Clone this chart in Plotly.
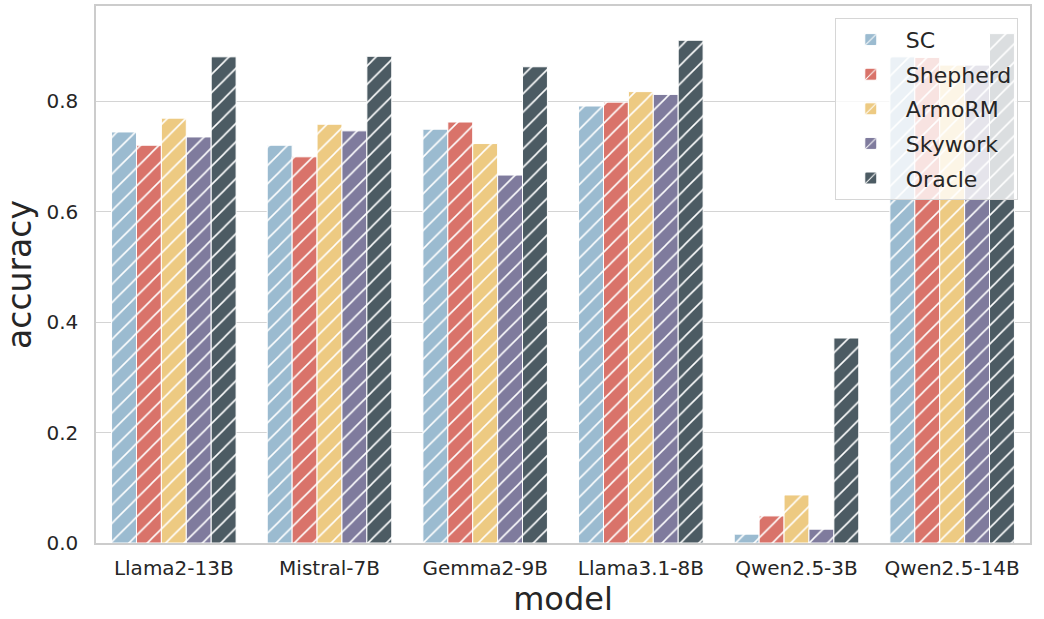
import plotly.graph_objects as go

models = ["Llama2-13B", "Mistral-7B", "Gemma2-9B", "Llama3.1-8B", "Qwen2.5-3B", "Qwen2.5-14B"]
sc = [0.744, 0.720, 0.749, 0.791, 0.016, 0.880]
shepherd = [0.720, 0.699, 0.762, 0.798, 0.049, 0.879]
armorm = [0.769, 0.758, 0.723, 0.817, 0.087, 0.865]
skywork = [0.735, 0.746, 0.666, 0.812, 0.025, 0.865]
oracle = [0.880, 0.881, 0.862, 0.910, 0.371, 0.922]

series = [
    ("SC", sc, "#9BBBD0"),
    ("Shepherd", shepherd, "#D9736A"),
    ("ArmoRM", armorm, "#EDCA82"),
    ("Skywork", skywork, "#7F7B9D"),
    ("Oracle", oracle, "#4C5B63"),
]

fig = go.Figure()
for name, vals, col in series:
    fig.add_trace(go.Bar(
        x=models, y=vals, name=name, legendgroup=name,
        marker=dict(color=col, line=dict(color="white", width=1),
                    pattern=dict(shape="/", fgcolor="white", fgopacity=1, bgcolor=col,
                                 size=13, solidity=0.12)),
    ))

font = "DejaVu Sans, sans-serif"
fig.update_layout(
    width=1044, height=619,
    margin=dict(l=96, r=14, t=6, b=76),
    barmode="group", bargap=0.2, bargroupgap=0,
    plot_bgcolor="white", paper_bgcolor="white",
    font=dict(family=font, color="#262626", size=20),
    legend=dict(x=0.791, y=0.978, xanchor="left", yanchor="top",
                bgcolor="rgba(255,255,255,0.8)", bordercolor="#d6d6d6", borderwidth=1,
                font=dict(size=22), itemwidth=60, tracegroupgap=3),
    xaxis=dict(title=dict(text="model", font=dict(size=32), standoff=4),
               automargin=False,
               showline=True, mirror=True, linecolor="#cccccc", linewidth=1.5,
               tickfont=dict(size=20), ticks="", ticklabelstandoff=6),
    yaxis=dict(title=dict(text="accuracy", font=dict(size=33), standoff=8),
               automargin=False,
               range=[0, 0.972], tickvals=[0, 0.2, 0.4, 0.6, 0.8],
               ticktext=["0.0", "0.2", "0.4", "0.6", "0.8"],
               showline=True, mirror=True, linecolor="#cccccc", linewidth=1.5,
               showgrid=True, gridcolor="#d4d4d4", gridwidth=1.3,
               zeroline=False, tickfont=dict(size=20), ticks="", ticklabelstandoff=12),
)

fig.write_html("out.html", post_script="document.body.style.margin='0';",
               config={"displayModeBar": False})
